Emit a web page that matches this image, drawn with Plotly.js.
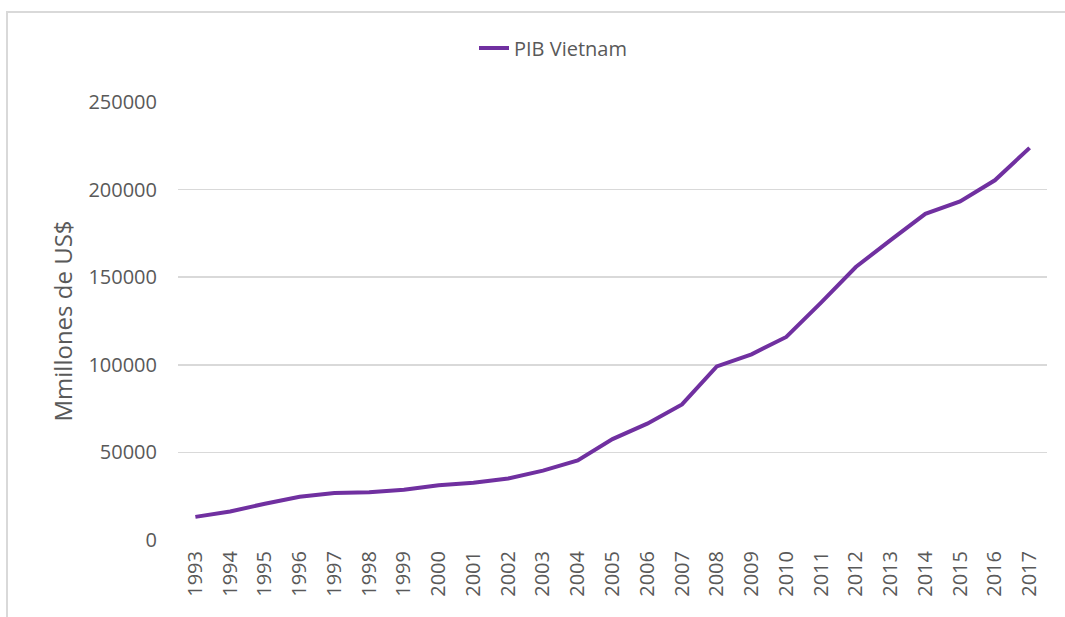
<!DOCTYPE html>
<html>
<head>
<meta charset="utf-8">
<script src="https://cdn.plot.ly/plotly-3.0.1.min.js"></script>
<style>
html,body{margin:0;padding:0;background:#fff;}
#chart{width:1065px;height:617px;}
</style>
</head>
<body>
<div id="chart"></div>
<script>
const years = ["1993","1994","1995","1996","1997","1998","1999","2000","2001","2002","2003","2004","2005","2006","2007","2008","2009","2010","2011","2012","2013","2014","2015","2016","2017"];
const gdpVietnam = [13200,16300,20700,24700,26800,27200,28700,31200,32700,35100,39600,45400,57600,66400,77400,99100,106000,115900,135500,155800,171200,186200,193200,205300,223800];
const seriesName = "PIB Vietnam";
const yTickVals = [0,50000,100000,150000,200000,250000];
const yTickText = ["0","50000","100000","150000","200000","250000"];

const W = 1065, H = 617;
const L = 178, R = 18, T = 102, B = 77;
const pw = W - L - R, ph = H - T - B;
const px = x => (x - L) / pw;
const py = y => 1 - (y - T) / ph;

const fontFam = "'Open Sans', 'Noto Sans', sans-serif";
const grey = "#595959";

Plotly.newPlot("chart", [{
  x: years,
  y: gdpVietnam,
  type: "scatter",
  mode: "lines",
  name: seriesName,
  line: {color: "#7030A0", width: 4}
}], {
  width: W, height: H,
  margin: {l: L, r: R, t: T, b: B, pad: 0},
  paper_bgcolor: "#fff",
  plot_bgcolor: "#fff",
  showlegend: true,
  legend: {
    orientation: "h",
    x: px(474), y: py(48), xanchor: "left", yanchor: "middle",
    font: {family: fontFam, size: 20, color: grey},
    bgcolor: "rgba(0,0,0,0)"
  },
  xaxis: {
    type: "category",
    range: [-0.5, years.length - 0.5],
    tickangle: -90,
    tickfont: {family: fontFam, size: 20, color: grey},
    ticklabelstandoff: 6,
    showgrid: false, zeroline: false, showline: false,
    ticks: "", ticklen: 0
  },
  yaxis: {
    range: [0, 250000],
    tickvals: yTickVals,
    ticktext: yTickText,
    tickfont: {family: fontFam, size: 20, color: grey},
    ticklabelstandoff: 20,
    showgrid: true, gridcolor: "#d9d9d9", gridwidth: 1.5,
    zeroline: false, showline: false,
    ticks: "", ticklen: 0,
    title: {text: "Mmillones de US$", font: {family: fontFam, size: 24, color: grey}, standoff: 8}
  },
  shapes: [{
    type: "rect", xref: "paper", yref: "paper",
    x0: px(7), x1: px(1075), y0: py(630), y1: py(12),
    line: {color: "#d9d9d9", width: 2}, fillcolor: "rgba(0,0,0,0)", layer: "below"
  }]
}, {displayModeBar: false, staticPlot: true});
</script>
</body>
</html>
